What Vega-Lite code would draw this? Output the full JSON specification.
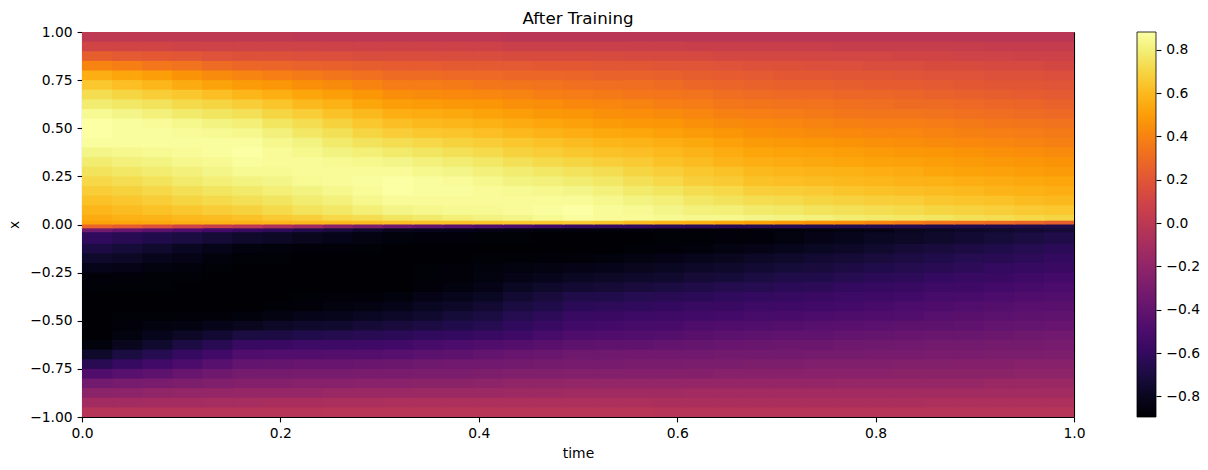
{"$schema":"https://vega.github.io/schema/vega-lite/v6.json","width":992,"height":385,"autosize":{"type":"none"},"padding":{"left":82,"top":32,"right":134,"bottom":53},"background":"white",
"config":{"font":"DejaVu Sans","view":{"stroke":null},"title":{"font":"DejaVu Sans","fontSize":16.67,"fontWeight":"normal","color":"black","offset":-3},"axis":{"grid":false,"labelFont":"DejaVu Sans","titleFont":"DejaVu Sans","labelFontSize":13.89,"titleFontSize":13.89,"titleFontWeight":"normal","labelColor":"black","titleColor":"black","tickColor":"black","domainColor":"black","tickWidth":1.1,"domainWidth":1.1,"tickSize":4.9,"labelPadding":4.9,"labelFlush":false,"labelOverlap":false}},
"title":{"text":"After Training","anchor":"middle"},
"datasets":{"cols":[{"c":0,"t0":0,"t1":0.0315},{"c":1,"t0":0.0303,"t1":0.0618},{"c":2,"t0":0.0606,"t1":0.0921},{"c":3,"t0":0.0909,"t1":0.1224},{"c":4,"t0":0.1212,"t1":0.1527},{"c":5,"t0":0.1515,"t1":0.183},{"c":6,"t0":0.1818,"t1":0.2133},{"c":7,"t0":0.2121,"t1":0.2436},{"c":8,"t0":0.2424,"t1":0.2739},{"c":9,"t0":0.2727,"t1":0.3042},{"c":10,"t0":0.303,"t1":0.3345},{"c":11,"t0":0.3333,"t1":0.3648},{"c":12,"t0":0.3636,"t1":0.3951},{"c":13,"t0":0.3939,"t1":0.4254},{"c":14,"t0":0.4242,"t1":0.4557},{"c":15,"t0":0.4545,"t1":0.486},{"c":16,"t0":0.4848,"t1":0.5164},{"c":17,"t0":0.5152,"t1":0.5467},{"c":18,"t0":0.5455,"t1":0.577},{"c":19,"t0":0.5758,"t1":0.6073},{"c":20,"t0":0.6061,"t1":0.6376},{"c":21,"t0":0.6364,"t1":0.6679},{"c":22,"t0":0.6667,"t1":0.6982},{"c":23,"t0":0.697,"t1":0.7285},{"c":24,"t0":0.7273,"t1":0.7588},{"c":25,"t0":0.7576,"t1":0.7891},{"c":26,"t0":0.7879,"t1":0.8194},{"c":27,"t0":0.8182,"t1":0.8497},{"c":28,"t0":0.8485,"t1":0.88},{"c":29,"t0":0.8788,"t1":0.9103},{"c":30,"t0":0.9091,"t1":0.9406},{"c":31,"t0":0.9394,"t1":0.9709},{"c":32,"t0":0.9697,"t1":1}],
"rows":[{"r":0,"x0":-1,"x1":-0.944},{"r":1,"x0":-0.95,"x1":-0.894},{"r":2,"x0":-0.9,"x1":-0.844},{"r":3,"x0":-0.85,"x1":-0.794},{"r":4,"x0":-0.8,"x1":-0.744},{"r":5,"x0":-0.75,"x1":-0.694},{"r":6,"x0":-0.7,"x1":-0.644},{"r":7,"x0":-0.65,"x1":-0.594},{"r":8,"x0":-0.6,"x1":-0.544},{"r":9,"x0":-0.55,"x1":-0.494},{"r":10,"x0":-0.5,"x1":-0.444},{"r":11,"x0":-0.45,"x1":-0.394},{"r":12,"x0":-0.4,"x1":-0.344},{"r":13,"x0":-0.35,"x1":-0.294},{"r":14,"x0":-0.3,"x1":-0.244},{"r":15,"x0":-0.25,"x1":-0.194},{"r":16,"x0":-0.2,"x1":-0.144},{"r":17,"x0":-0.15,"x1":-0.094},{"r":18,"x0":-0.1,"x1":-0.034},{"r":19,"x0":-0.04,"x1":-0.014},{"r":20,"x0":-0.02,"x1":0.006},{"r":21,"x0":0,"x1":0.026},{"r":22,"x0":0.02,"x1":0.056},{"r":23,"x0":0.05,"x1":0.106},{"r":24,"x0":0.1,"x1":0.156},{"r":25,"x0":0.15,"x1":0.206},{"r":26,"x0":0.2,"x1":0.256},{"r":27,"x0":0.25,"x1":0.306},{"r":28,"x0":0.3,"x1":0.356},{"r":29,"x0":0.35,"x1":0.406},{"r":30,"x0":0.4,"x1":0.456},{"r":31,"x0":0.45,"x1":0.506},{"r":32,"x0":0.5,"x1":0.556},{"r":33,"x0":0.55,"x1":0.606},{"r":34,"x0":0.6,"x1":0.656},{"r":35,"x0":0.65,"x1":0.706},{"r":36,"x0":0.7,"x1":0.756},{"r":37,"x0":0.75,"x1":0.806},{"r":38,"x0":0.8,"x1":0.856},{"r":39,"x0":0.85,"x1":0.906},{"r":40,"x0":0.9,"x1":0.956},{"r":41,"x0":0.95,"x1":1}],
"ticks":[{"v":-0.895},{"v":0.882}],
"cells":[
{"c":0,"r":0,"v":-0.03},{"c":1,"r":0,"v":-0.03},{"c":2,"r":0,"v":-0.03},{"c":3,"r":0,"v":-0.03},{"c":4,"r":0,"v":-0.03},{"c":5,"r":0,"v":-0.03},{"c":6,"r":0,"v":-0.03},{"c":7,"r":0,"v":-0.03},{"c":8,"r":0,"v":-0.02},{"c":9,"r":0,"v":-0.02},{"c":10,"r":0,"v":-0.02},{"c":11,"r":0,"v":-0.02},{"c":12,"r":0,"v":-0.02},{"c":13,"r":0,"v":-0.02},{"c":14,"r":0,"v":-0.02},{"c":15,"r":0,"v":-0.02},{"c":16,"r":0,"v":-0.02},{"c":17,"r":0,"v":-0.02},{"c":18,"r":0,"v":-0.02},{"c":19,"r":0,"v":-0.03},{"c":20,"r":0,"v":-0.03},{"c":21,"r":0,"v":-0.03},{"c":22,"r":0,"v":-0.03},{"c":23,"r":0,"v":-0.03},{"c":24,"r":0,"v":-0.03},{"c":25,"r":0,"v":-0.03},{"c":26,"r":0,"v":-0.03},{"c":27,"r":0,"v":-0.03},{"c":28,"r":0,"v":-0.03},{"c":29,"r":0,"v":-0.03},{"c":30,"r":0,"v":-0.03},{"c":31,"r":0,"v":-0.03},{"c":32,"r":0,"v":-0.03},
{"c":0,"r":1,"v":-0.12},{"c":1,"r":1,"v":-0.12},{"c":2,"r":1,"v":-0.11},{"c":3,"r":1,"v":-0.11},{"c":4,"r":1,"v":-0.1},{"c":5,"r":1,"v":-0.1},{"c":6,"r":1,"v":-0.09},{"c":7,"r":1,"v":-0.09},{"c":8,"r":1,"v":-0.08},{"c":9,"r":1,"v":-0.08},{"c":10,"r":1,"v":-0.07},{"c":11,"r":1,"v":-0.07},{"c":12,"r":1,"v":-0.07},{"c":13,"r":1,"v":-0.07},{"c":14,"r":1,"v":-0.07},{"c":15,"r":1,"v":-0.07},{"c":16,"r":1,"v":-0.07},{"c":17,"r":1,"v":-0.07},{"c":18,"r":1,"v":-0.07},{"c":19,"r":1,"v":-0.08},{"c":20,"r":1,"v":-0.08},{"c":21,"r":1,"v":-0.08},{"c":22,"r":1,"v":-0.08},{"c":23,"r":1,"v":-0.08},{"c":24,"r":1,"v":-0.08},{"c":25,"r":1,"v":-0.08},{"c":26,"r":1,"v":-0.08},{"c":27,"r":1,"v":-0.08},{"c":28,"r":1,"v":-0.07},{"c":29,"r":1,"v":-0.07},{"c":30,"r":1,"v":-0.07},{"c":31,"r":1,"v":-0.07},{"c":32,"r":1,"v":-0.07},
{"c":0,"r":2,"v":-0.22},{"c":1,"r":2,"v":-0.21},{"c":2,"r":2,"v":-0.2},{"c":3,"r":2,"v":-0.19},{"c":4,"r":2,"v":-0.18},{"c":5,"r":2,"v":-0.17},{"c":6,"r":2,"v":-0.17},{"c":7,"r":2,"v":-0.17},{"c":8,"r":2,"v":-0.16},{"c":9,"r":2,"v":-0.16},{"c":10,"r":2,"v":-0.16},{"c":11,"r":2,"v":-0.15},{"c":12,"r":2,"v":-0.15},{"c":13,"r":2,"v":-0.15},{"c":14,"r":2,"v":-0.14},{"c":15,"r":2,"v":-0.14},{"c":16,"r":2,"v":-0.13},{"c":17,"r":2,"v":-0.13},{"c":18,"r":2,"v":-0.13},{"c":19,"r":2,"v":-0.13},{"c":20,"r":2,"v":-0.12},{"c":21,"r":2,"v":-0.12},{"c":22,"r":2,"v":-0.12},{"c":23,"r":2,"v":-0.12},{"c":24,"r":2,"v":-0.12},{"c":25,"r":2,"v":-0.12},{"c":26,"r":2,"v":-0.12},{"c":27,"r":2,"v":-0.12},{"c":28,"r":2,"v":-0.12},{"c":29,"r":2,"v":-0.12},{"c":30,"r":2,"v":-0.12},{"c":31,"r":2,"v":-0.12},{"c":32,"r":2,"v":-0.12},
{"c":0,"r":3,"v":-0.33},{"c":1,"r":3,"v":-0.31},{"c":2,"r":3,"v":-0.3},{"c":3,"r":3,"v":-0.28},{"c":4,"r":3,"v":-0.27},{"c":5,"r":3,"v":-0.25},{"c":6,"r":3,"v":-0.25},{"c":7,"r":3,"v":-0.24},{"c":8,"r":3,"v":-0.24},{"c":9,"r":3,"v":-0.23},{"c":10,"r":3,"v":-0.23},{"c":11,"r":3,"v":-0.22},{"c":12,"r":3,"v":-0.22},{"c":13,"r":3,"v":-0.21},{"c":14,"r":3,"v":-0.2},{"c":15,"r":3,"v":-0.2},{"c":16,"r":3,"v":-0.19},{"c":17,"r":3,"v":-0.19},{"c":18,"r":3,"v":-0.19},{"c":19,"r":3,"v":-0.19},{"c":20,"r":3,"v":-0.18},{"c":21,"r":3,"v":-0.18},{"c":22,"r":3,"v":-0.18},{"c":23,"r":3,"v":-0.18},{"c":24,"r":3,"v":-0.18},{"c":25,"r":3,"v":-0.17},{"c":26,"r":3,"v":-0.17},{"c":27,"r":3,"v":-0.17},{"c":28,"r":3,"v":-0.17},{"c":29,"r":3,"v":-0.17},{"c":30,"r":3,"v":-0.16},{"c":31,"r":3,"v":-0.16},{"c":32,"r":3,"v":-0.16},
{"c":0,"r":4,"v":-0.48},{"c":1,"r":4,"v":-0.45},{"c":2,"r":4,"v":-0.42},{"c":3,"r":4,"v":-0.38},{"c":4,"r":4,"v":-0.35},{"c":5,"r":4,"v":-0.32},{"c":6,"r":4,"v":-0.32},{"c":7,"r":4,"v":-0.31},{"c":8,"r":4,"v":-0.31},{"c":9,"r":4,"v":-0.3},{"c":10,"r":4,"v":-0.3},{"c":11,"r":4,"v":-0.29},{"c":12,"r":4,"v":-0.29},{"c":13,"r":4,"v":-0.28},{"c":14,"r":4,"v":-0.27},{"c":15,"r":4,"v":-0.27},{"c":16,"r":4,"v":-0.26},{"c":17,"r":4,"v":-0.26},{"c":18,"r":4,"v":-0.25},{"c":19,"r":4,"v":-0.25},{"c":20,"r":4,"v":-0.25},{"c":21,"r":4,"v":-0.24},{"c":22,"r":4,"v":-0.24},{"c":23,"r":4,"v":-0.24},{"c":24,"r":4,"v":-0.23},{"c":25,"r":4,"v":-0.23},{"c":26,"r":4,"v":-0.23},{"c":27,"r":4,"v":-0.22},{"c":28,"r":4,"v":-0.22},{"c":29,"r":4,"v":-0.22},{"c":30,"r":4,"v":-0.22},{"c":31,"r":4,"v":-0.21},{"c":32,"r":4,"v":-0.21},
{"c":0,"r":5,"v":-0.64},{"c":1,"r":5,"v":-0.59},{"c":2,"r":5,"v":-0.54},{"c":3,"r":5,"v":-0.5},{"c":4,"r":5,"v":-0.45},{"c":5,"r":5,"v":-0.4},{"c":6,"r":5,"v":-0.39},{"c":7,"r":5,"v":-0.38},{"c":8,"r":5,"v":-0.38},{"c":9,"r":5,"v":-0.37},{"c":10,"r":5,"v":-0.36},{"c":11,"r":5,"v":-0.35},{"c":12,"r":5,"v":-0.34},{"c":13,"r":5,"v":-0.34},{"c":14,"r":5,"v":-0.33},{"c":15,"r":5,"v":-0.32},{"c":16,"r":5,"v":-0.31},{"c":17,"r":5,"v":-0.31},{"c":18,"r":5,"v":-0.3},{"c":19,"r":5,"v":-0.3},{"c":20,"r":5,"v":-0.29},{"c":21,"r":5,"v":-0.29},{"c":22,"r":5,"v":-0.28},{"c":23,"r":5,"v":-0.28},{"c":24,"r":5,"v":-0.27},{"c":25,"r":5,"v":-0.27},{"c":26,"r":5,"v":-0.27},{"c":27,"r":5,"v":-0.26},{"c":28,"r":5,"v":-0.26},{"c":29,"r":5,"v":-0.25},{"c":30,"r":5,"v":-0.25},{"c":31,"r":5,"v":-0.24},{"c":32,"r":5,"v":-0.24},
{"c":0,"r":6,"v":-0.76},{"c":1,"r":6,"v":-0.7},{"c":2,"r":6,"v":-0.65},{"c":3,"r":6,"v":-0.59},{"c":4,"r":6,"v":-0.54},{"c":5,"r":6,"v":-0.48},{"c":6,"r":6,"v":-0.47},{"c":7,"r":6,"v":-0.47},{"c":8,"r":6,"v":-0.46},{"c":9,"r":6,"v":-0.46},{"c":10,"r":6,"v":-0.45},{"c":11,"r":6,"v":-0.43},{"c":12,"r":6,"v":-0.42},{"c":13,"r":6,"v":-0.4},{"c":14,"r":6,"v":-0.38},{"c":15,"r":6,"v":-0.37},{"c":16,"r":6,"v":-0.35},{"c":17,"r":6,"v":-0.35},{"c":18,"r":6,"v":-0.34},{"c":19,"r":6,"v":-0.34},{"c":20,"r":6,"v":-0.34},{"c":21,"r":6,"v":-0.33},{"c":22,"r":6,"v":-0.33},{"c":23,"r":6,"v":-0.33},{"c":24,"r":6,"v":-0.32},{"c":25,"r":6,"v":-0.32},{"c":26,"r":6,"v":-0.31},{"c":27,"r":6,"v":-0.31},{"c":28,"r":6,"v":-0.3},{"c":29,"r":6,"v":-0.3},{"c":30,"r":6,"v":-0.29},{"c":31,"r":6,"v":-0.29},{"c":32,"r":6,"v":-0.28},
{"c":0,"r":7,"v":-0.86},{"c":1,"r":7,"v":-0.8},{"c":2,"r":7,"v":-0.75},{"c":3,"r":7,"v":-0.69},{"c":4,"r":7,"v":-0.64},{"c":5,"r":7,"v":-0.58},{"c":6,"r":7,"v":-0.57},{"c":7,"r":7,"v":-0.56},{"c":8,"r":7,"v":-0.56},{"c":9,"r":7,"v":-0.55},{"c":10,"r":7,"v":-0.54},{"c":11,"r":7,"v":-0.52},{"c":12,"r":7,"v":-0.5},{"c":13,"r":7,"v":-0.48},{"c":14,"r":7,"v":-0.46},{"c":15,"r":7,"v":-0.44},{"c":16,"r":7,"v":-0.42},{"c":17,"r":7,"v":-0.41},{"c":18,"r":7,"v":-0.41},{"c":19,"r":7,"v":-0.4},{"c":20,"r":7,"v":-0.39},{"c":21,"r":7,"v":-0.38},{"c":22,"r":7,"v":-0.37},{"c":23,"r":7,"v":-0.36},{"c":24,"r":7,"v":-0.36},{"c":25,"r":7,"v":-0.35},{"c":26,"r":7,"v":-0.35},{"c":27,"r":7,"v":-0.34},{"c":28,"r":7,"v":-0.33},{"c":29,"r":7,"v":-0.33},{"c":30,"r":7,"v":-0.32},{"c":31,"r":7,"v":-0.32},{"c":32,"r":7,"v":-0.31},
{"c":0,"r":8,"v":-0.89},{"c":1,"r":8,"v":-0.85},{"c":2,"r":8,"v":-0.81},{"c":3,"r":8,"v":-0.78},{"c":4,"r":8,"v":-0.74},{"c":5,"r":8,"v":-0.7},{"c":6,"r":8,"v":-0.69},{"c":7,"r":8,"v":-0.67},{"c":8,"r":8,"v":-0.66},{"c":9,"r":8,"v":-0.64},{"c":10,"r":8,"v":-0.63},{"c":11,"r":8,"v":-0.61},{"c":12,"r":8,"v":-0.6},{"c":13,"r":8,"v":-0.58},{"c":14,"r":8,"v":-0.55},{"c":15,"r":8,"v":-0.52},{"c":16,"r":8,"v":-0.49},{"c":17,"r":8,"v":-0.48},{"c":18,"r":8,"v":-0.47},{"c":19,"r":8,"v":-0.46},{"c":20,"r":8,"v":-0.44},{"c":21,"r":8,"v":-0.43},{"c":22,"r":8,"v":-0.42},{"c":23,"r":8,"v":-0.41},{"c":24,"r":8,"v":-0.41},{"c":25,"r":8,"v":-0.4},{"c":26,"r":8,"v":-0.39},{"c":27,"r":8,"v":-0.38},{"c":28,"r":8,"v":-0.37},{"c":29,"r":8,"v":-0.37},{"c":30,"r":8,"v":-0.36},{"c":31,"r":8,"v":-0.35},{"c":32,"r":8,"v":-0.34},
{"c":0,"r":9,"v":-0.89},{"c":1,"r":9,"v":-0.87},{"c":2,"r":9,"v":-0.85},{"c":3,"r":9,"v":-0.84},{"c":4,"r":9,"v":-0.82},{"c":5,"r":9,"v":-0.8},{"c":6,"r":9,"v":-0.78},{"c":7,"r":9,"v":-0.76},{"c":8,"r":9,"v":-0.75},{"c":9,"r":9,"v":-0.73},{"c":10,"r":9,"v":-0.71},{"c":11,"r":9,"v":-0.69},{"c":12,"r":9,"v":-0.67},{"c":13,"r":9,"v":-0.65},{"c":14,"r":9,"v":-0.61},{"c":15,"r":9,"v":-0.58},{"c":16,"r":9,"v":-0.54},{"c":17,"r":9,"v":-0.53},{"c":18,"r":9,"v":-0.52},{"c":19,"r":9,"v":-0.51},{"c":20,"r":9,"v":-0.49},{"c":21,"r":9,"v":-0.48},{"c":22,"r":9,"v":-0.47},{"c":23,"r":9,"v":-0.46},{"c":24,"r":9,"v":-0.45},{"c":25,"r":9,"v":-0.44},{"c":26,"r":9,"v":-0.43},{"c":27,"r":9,"v":-0.42},{"c":28,"r":9,"v":-0.42},{"c":29,"r":9,"v":-0.41},{"c":30,"r":9,"v":-0.4},{"c":31,"r":9,"v":-0.39},{"c":32,"r":9,"v":-0.38},
{"c":0,"r":10,"v":-0.89},{"c":1,"r":10,"v":-0.88},{"c":2,"r":10,"v":-0.88},{"c":3,"r":10,"v":-0.87},{"c":4,"r":10,"v":-0.87},{"c":5,"r":10,"v":-0.86},{"c":6,"r":10,"v":-0.84},{"c":7,"r":10,"v":-0.82},{"c":8,"r":10,"v":-0.81},{"c":9,"r":10,"v":-0.79},{"c":10,"r":10,"v":-0.77},{"c":11,"r":10,"v":-0.75},{"c":12,"r":10,"v":-0.72},{"c":13,"r":10,"v":-0.7},{"c":14,"r":10,"v":-0.65},{"c":15,"r":10,"v":-0.62},{"c":16,"r":10,"v":-0.58},{"c":17,"r":10,"v":-0.57},{"c":18,"r":10,"v":-0.56},{"c":19,"r":10,"v":-0.55},{"c":20,"r":10,"v":-0.54},{"c":21,"r":10,"v":-0.53},{"c":22,"r":10,"v":-0.52},{"c":23,"r":10,"v":-0.51},{"c":24,"r":10,"v":-0.5},{"c":25,"r":10,"v":-0.49},{"c":26,"r":10,"v":-0.48},{"c":27,"r":10,"v":-0.47},{"c":28,"r":10,"v":-0.45},{"c":29,"r":10,"v":-0.44},{"c":30,"r":10,"v":-0.43},{"c":31,"r":10,"v":-0.42},{"c":32,"r":10,"v":-0.41},
{"c":0,"r":11,"v":-0.89},{"c":1,"r":11,"v":-0.89},{"c":2,"r":11,"v":-0.89},{"c":3,"r":11,"v":-0.89},{"c":4,"r":11,"v":-0.89},{"c":5,"r":11,"v":-0.89},{"c":6,"r":11,"v":-0.88},{"c":7,"r":11,"v":-0.87},{"c":8,"r":11,"v":-0.85},{"c":9,"r":11,"v":-0.84},{"c":10,"r":11,"v":-0.82},{"c":11,"r":11,"v":-0.79},{"c":12,"r":11,"v":-0.77},{"c":13,"r":11,"v":-0.74},{"c":14,"r":11,"v":-0.7},{"c":15,"r":11,"v":-0.67},{"c":16,"r":11,"v":-0.63},{"c":17,"r":11,"v":-0.62},{"c":18,"r":11,"v":-0.61},{"c":19,"r":11,"v":-0.6},{"c":20,"r":11,"v":-0.58},{"c":21,"r":11,"v":-0.57},{"c":22,"r":11,"v":-0.56},{"c":23,"r":11,"v":-0.55},{"c":24,"r":11,"v":-0.54},{"c":25,"r":11,"v":-0.53},{"c":26,"r":11,"v":-0.51},{"c":27,"r":11,"v":-0.5},{"c":28,"r":11,"v":-0.49},{"c":29,"r":11,"v":-0.47},{"c":30,"r":11,"v":-0.46},{"c":31,"r":11,"v":-0.45},{"c":32,"r":11,"v":-0.44},
{"c":0,"r":12,"v":-0.89},{"c":1,"r":12,"v":-0.89},{"c":2,"r":12,"v":-0.89},{"c":3,"r":12,"v":-0.89},{"c":4,"r":12,"v":-0.89},{"c":5,"r":12,"v":-0.89},{"c":6,"r":12,"v":-0.89},{"c":7,"r":12,"v":-0.88},{"c":8,"r":12,"v":-0.87},{"c":9,"r":12,"v":-0.87},{"c":10,"r":12,"v":-0.86},{"c":11,"r":12,"v":-0.83},{"c":12,"r":12,"v":-0.81},{"c":13,"r":12,"v":-0.79},{"c":14,"r":12,"v":-0.74},{"c":15,"r":12,"v":-0.71},{"c":16,"r":12,"v":-0.68},{"c":17,"r":12,"v":-0.67},{"c":18,"r":12,"v":-0.65},{"c":19,"r":12,"v":-0.64},{"c":20,"r":12,"v":-0.63},{"c":21,"r":12,"v":-0.61},{"c":22,"r":12,"v":-0.6},{"c":23,"r":12,"v":-0.59},{"c":24,"r":12,"v":-0.57},{"c":25,"r":12,"v":-0.56},{"c":26,"r":12,"v":-0.55},{"c":27,"r":12,"v":-0.54},{"c":28,"r":12,"v":-0.52},{"c":29,"r":12,"v":-0.51},{"c":30,"r":12,"v":-0.5},{"c":31,"r":12,"v":-0.48},{"c":32,"r":12,"v":-0.47},
{"c":0,"r":13,"v":-0.88},{"c":1,"r":13,"v":-0.88},{"c":2,"r":13,"v":-0.88},{"c":3,"r":13,"v":-0.89},{"c":4,"r":13,"v":-0.89},{"c":5,"r":13,"v":-0.89},{"c":6,"r":13,"v":-0.89},{"c":7,"r":13,"v":-0.89},{"c":8,"r":13,"v":-0.89},{"c":9,"r":13,"v":-0.89},{"c":10,"r":13,"v":-0.89},{"c":11,"r":13,"v":-0.87},{"c":12,"r":13,"v":-0.85},{"c":13,"r":13,"v":-0.83},{"c":14,"r":13,"v":-0.79},{"c":15,"r":13,"v":-0.76},{"c":16,"r":13,"v":-0.74},{"c":17,"r":13,"v":-0.73},{"c":18,"r":13,"v":-0.71},{"c":19,"r":13,"v":-0.7},{"c":20,"r":13,"v":-0.68},{"c":21,"r":13,"v":-0.66},{"c":22,"r":13,"v":-0.65},{"c":23,"r":13,"v":-0.63},{"c":24,"r":13,"v":-0.62},{"c":25,"r":13,"v":-0.6},{"c":26,"r":13,"v":-0.59},{"c":27,"r":13,"v":-0.58},{"c":28,"r":13,"v":-0.56},{"c":29,"r":13,"v":-0.55},{"c":30,"r":13,"v":-0.53},{"c":31,"r":13,"v":-0.52},{"c":32,"r":13,"v":-0.5},
{"c":0,"r":14,"v":-0.87},{"c":1,"r":14,"v":-0.87},{"c":2,"r":14,"v":-0.88},{"c":3,"r":14,"v":-0.88},{"c":4,"r":14,"v":-0.89},{"c":5,"r":14,"v":-0.89},{"c":6,"r":14,"v":-0.89},{"c":7,"r":14,"v":-0.89},{"c":8,"r":14,"v":-0.89},{"c":9,"r":14,"v":-0.89},{"c":10,"r":14,"v":-0.89},{"c":11,"r":14,"v":-0.88},{"c":12,"r":14,"v":-0.87},{"c":13,"r":14,"v":-0.85},{"c":14,"r":14,"v":-0.83},{"c":15,"r":14,"v":-0.81},{"c":16,"r":14,"v":-0.79},{"c":17,"r":14,"v":-0.78},{"c":18,"r":14,"v":-0.76},{"c":19,"r":14,"v":-0.75},{"c":20,"r":14,"v":-0.73},{"c":21,"r":14,"v":-0.72},{"c":22,"r":14,"v":-0.7},{"c":23,"r":14,"v":-0.68},{"c":24,"r":14,"v":-0.67},{"c":25,"r":14,"v":-0.65},{"c":26,"r":14,"v":-0.63},{"c":27,"r":14,"v":-0.62},{"c":28,"r":14,"v":-0.6},{"c":29,"r":14,"v":-0.58},{"c":30,"r":14,"v":-0.57},{"c":31,"r":14,"v":-0.55},{"c":32,"r":14,"v":-0.53},
{"c":0,"r":15,"v":-0.82},{"c":1,"r":15,"v":-0.83},{"c":2,"r":15,"v":-0.85},{"c":3,"r":15,"v":-0.86},{"c":4,"r":15,"v":-0.88},{"c":5,"r":15,"v":-0.89},{"c":6,"r":15,"v":-0.89},{"c":7,"r":15,"v":-0.89},{"c":8,"r":15,"v":-0.89},{"c":9,"r":15,"v":-0.89},{"c":10,"r":15,"v":-0.89},{"c":11,"r":15,"v":-0.88},{"c":12,"r":15,"v":-0.87},{"c":13,"r":15,"v":-0.86},{"c":14,"r":15,"v":-0.85},{"c":15,"r":15,"v":-0.84},{"c":16,"r":15,"v":-0.83},{"c":17,"r":15,"v":-0.82},{"c":18,"r":15,"v":-0.8},{"c":19,"r":15,"v":-0.79},{"c":20,"r":15,"v":-0.77},{"c":21,"r":15,"v":-0.76},{"c":22,"r":15,"v":-0.74},{"c":23,"r":15,"v":-0.72},{"c":24,"r":15,"v":-0.71},{"c":25,"r":15,"v":-0.69},{"c":26,"r":15,"v":-0.67},{"c":27,"r":15,"v":-0.66},{"c":28,"r":15,"v":-0.64},{"c":29,"r":15,"v":-0.62},{"c":30,"r":15,"v":-0.6},{"c":31,"r":15,"v":-0.59},{"c":32,"r":15,"v":-0.57},
{"c":0,"r":16,"v":-0.76},{"c":1,"r":16,"v":-0.78},{"c":2,"r":16,"v":-0.81},{"c":3,"r":16,"v":-0.83},{"c":4,"r":16,"v":-0.86},{"c":5,"r":16,"v":-0.88},{"c":6,"r":16,"v":-0.88},{"c":7,"r":16,"v":-0.89},{"c":8,"r":16,"v":-0.89},{"c":9,"r":16,"v":-0.89},{"c":10,"r":16,"v":-0.89},{"c":11,"r":16,"v":-0.89},{"c":12,"r":16,"v":-0.89},{"c":13,"r":16,"v":-0.88},{"c":14,"r":16,"v":-0.88},{"c":15,"r":16,"v":-0.87},{"c":16,"r":16,"v":-0.87},{"c":17,"r":16,"v":-0.86},{"c":18,"r":16,"v":-0.84},{"c":19,"r":16,"v":-0.83},{"c":20,"r":16,"v":-0.81},{"c":21,"r":16,"v":-0.8},{"c":22,"r":16,"v":-0.78},{"c":23,"r":16,"v":-0.76},{"c":24,"r":16,"v":-0.74},{"c":25,"r":16,"v":-0.73},{"c":26,"r":16,"v":-0.71},{"c":27,"r":16,"v":-0.69},{"c":28,"r":16,"v":-0.67},{"c":29,"r":16,"v":-0.65},{"c":30,"r":16,"v":-0.64},{"c":31,"r":16,"v":-0.62},{"c":32,"r":16,"v":-0.6},
{"c":0,"r":17,"v":-0.69},{"c":1,"r":17,"v":-0.72},{"c":2,"r":17,"v":-0.75},{"c":3,"r":17,"v":-0.79},{"c":4,"r":17,"v":-0.82},{"c":5,"r":17,"v":-0.85},{"c":6,"r":17,"v":-0.86},{"c":7,"r":17,"v":-0.87},{"c":8,"r":17,"v":-0.87},{"c":9,"r":17,"v":-0.88},{"c":10,"r":17,"v":-0.89},{"c":11,"r":17,"v":-0.89},{"c":12,"r":17,"v":-0.89},{"c":13,"r":17,"v":-0.89},{"c":14,"r":17,"v":-0.89},{"c":15,"r":17,"v":-0.89},{"c":16,"r":17,"v":-0.89},{"c":17,"r":17,"v":-0.89},{"c":18,"r":17,"v":-0.88},{"c":19,"r":17,"v":-0.87},{"c":20,"r":17,"v":-0.86},{"c":21,"r":17,"v":-0.84},{"c":22,"r":17,"v":-0.83},{"c":23,"r":17,"v":-0.81},{"c":24,"r":17,"v":-0.79},{"c":25,"r":17,"v":-0.77},{"c":26,"r":17,"v":-0.75},{"c":27,"r":17,"v":-0.73},{"c":28,"r":17,"v":-0.71},{"c":29,"r":17,"v":-0.69},{"c":30,"r":17,"v":-0.67},{"c":31,"r":17,"v":-0.65},{"c":32,"r":17,"v":-0.63},
{"c":0,"r":18,"v":-0.61},{"c":1,"r":18,"v":-0.64},{"c":2,"r":18,"v":-0.67},{"c":3,"r":18,"v":-0.7},{"c":4,"r":18,"v":-0.73},{"c":5,"r":18,"v":-0.76},{"c":6,"r":18,"v":-0.78},{"c":7,"r":18,"v":-0.8},{"c":8,"r":18,"v":-0.82},{"c":9,"r":18,"v":-0.84},{"c":10,"r":18,"v":-0.86},{"c":11,"r":18,"v":-0.87},{"c":12,"r":18,"v":-0.87},{"c":13,"r":18,"v":-0.88},{"c":14,"r":18,"v":-0.88},{"c":15,"r":18,"v":-0.89},{"c":16,"r":18,"v":-0.89},{"c":17,"r":18,"v":-0.89},{"c":18,"r":18,"v":-0.89},{"c":19,"r":18,"v":-0.88},{"c":20,"r":18,"v":-0.88},{"c":21,"r":18,"v":-0.87},{"c":22,"r":18,"v":-0.87},{"c":23,"r":18,"v":-0.85},{"c":24,"r":18,"v":-0.83},{"c":25,"r":18,"v":-0.81},{"c":26,"r":18,"v":-0.79},{"c":27,"r":18,"v":-0.78},{"c":28,"r":18,"v":-0.76},{"c":29,"r":18,"v":-0.74},{"c":30,"r":18,"v":-0.72},{"c":31,"r":18,"v":-0.7},{"c":32,"r":18,"v":-0.68},
{"c":0,"r":19,"v":-0.33},{"c":1,"r":19,"v":-0.38},{"c":2,"r":19,"v":-0.43},{"c":3,"r":19,"v":-0.48},{"c":4,"r":19,"v":-0.53},{"c":5,"r":19,"v":-0.58},{"c":6,"r":19,"v":-0.62},{"c":7,"r":19,"v":-0.67},{"c":8,"r":19,"v":-0.71},{"c":9,"r":19,"v":-0.76},{"c":10,"r":19,"v":-0.8},{"c":11,"r":19,"v":-0.81},{"c":12,"r":19,"v":-0.82},{"c":13,"r":19,"v":-0.83},{"c":14,"r":19,"v":-0.84},{"c":15,"r":19,"v":-0.85},{"c":16,"r":19,"v":-0.86},{"c":17,"r":19,"v":-0.86},{"c":18,"r":19,"v":-0.86},{"c":19,"r":19,"v":-0.87},{"c":20,"r":19,"v":-0.87},{"c":21,"r":19,"v":-0.87},{"c":22,"r":19,"v":-0.87},{"c":23,"r":19,"v":-0.86},{"c":24,"r":19,"v":-0.85},{"c":25,"r":19,"v":-0.84},{"c":26,"r":19,"v":-0.83},{"c":27,"r":19,"v":-0.8},{"c":28,"r":19,"v":-0.79},{"c":29,"r":19,"v":-0.77},{"c":30,"r":19,"v":-0.76},{"c":31,"r":19,"v":-0.74},{"c":32,"r":19,"v":-0.73},
{"c":0,"r":20,"v":0.27},{"c":1,"r":20,"v":0.23},{"c":2,"r":20,"v":0.17},{"c":3,"r":20,"v":0.1},{"c":4,"r":20,"v":0.05},{"c":5,"r":20,"v":0},{"c":6,"r":20,"v":-0.06},{"c":7,"r":20,"v":-0.12},{"c":8,"r":20,"v":-0.22},{"c":9,"r":20,"v":-0.28},{"c":10,"r":20,"v":-0.35},{"c":11,"r":20,"v":-0.39},{"c":12,"r":20,"v":-0.43},{"c":13,"r":20,"v":-0.47},{"c":14,"r":20,"v":-0.5},{"c":15,"r":20,"v":-0.54},{"c":16,"r":20,"v":-0.58},{"c":17,"r":20,"v":-0.59},{"c":18,"r":20,"v":-0.6},{"c":19,"r":20,"v":-0.62},{"c":20,"r":20,"v":-0.63},{"c":21,"r":20,"v":-0.64},{"c":22,"r":20,"v":-0.65},{"c":23,"r":20,"v":-0.65},{"c":24,"r":20,"v":-0.66},{"c":25,"r":20,"v":-0.66},{"c":26,"r":20,"v":-0.66},{"c":27,"r":20,"v":-0.66},{"c":28,"r":20,"v":-0.67},{"c":29,"r":20,"v":-0.67},{"c":30,"r":20,"v":-0.67},{"c":31,"r":20,"v":-0.68},{"c":32,"r":20,"v":-0.68},
{"c":0,"r":21,"v":0.52},{"c":1,"r":21,"v":0.53},{"c":2,"r":21,"v":0.54},{"c":3,"r":21,"v":0.56},{"c":4,"r":21,"v":0.57},{"c":5,"r":21,"v":0.58},{"c":6,"r":21,"v":0.59},{"c":7,"r":21,"v":0.6},{"c":8,"r":21,"v":0.6},{"c":9,"r":21,"v":0.61},{"c":10,"r":21,"v":0.62},{"c":11,"r":21,"v":0.63},{"c":12,"r":21,"v":0.63},{"c":13,"r":21,"v":0.64},{"c":14,"r":21,"v":0.65},{"c":15,"r":21,"v":0.65},{"c":16,"r":21,"v":0.66},{"c":17,"r":21,"v":0.64},{"c":18,"r":21,"v":0.61},{"c":19,"r":21,"v":0.59},{"c":20,"r":21,"v":0.57},{"c":21,"r":21,"v":0.54},{"c":22,"r":21,"v":0.52},{"c":23,"r":21,"v":0.49},{"c":24,"r":21,"v":0.46},{"c":25,"r":21,"v":0.44},{"c":26,"r":21,"v":0.41},{"c":27,"r":21,"v":0.38},{"c":28,"r":21,"v":0.35},{"c":29,"r":21,"v":0.32},{"c":30,"r":21,"v":0.3},{"c":31,"r":21,"v":0.27},{"c":32,"r":21,"v":0.24},
{"c":0,"r":22,"v":0.55},{"c":1,"r":22,"v":0.57},{"c":2,"r":22,"v":0.58},{"c":3,"r":22,"v":0.6},{"c":4,"r":22,"v":0.61},{"c":5,"r":22,"v":0.63},{"c":6,"r":22,"v":0.66},{"c":7,"r":22,"v":0.68},{"c":8,"r":22,"v":0.71},{"c":9,"r":22,"v":0.73},{"c":10,"r":22,"v":0.76},{"c":11,"r":22,"v":0.78},{"c":12,"r":22,"v":0.8},{"c":13,"r":22,"v":0.82},{"c":14,"r":22,"v":0.83},{"c":15,"r":22,"v":0.85},{"c":16,"r":22,"v":0.87},{"c":17,"r":22,"v":0.86},{"c":18,"r":22,"v":0.86},{"c":19,"r":22,"v":0.85},{"c":20,"r":22,"v":0.84},{"c":21,"r":22,"v":0.84},{"c":22,"r":22,"v":0.83},{"c":23,"r":22,"v":0.82},{"c":24,"r":22,"v":0.81},{"c":25,"r":22,"v":0.79},{"c":26,"r":22,"v":0.78},{"c":27,"r":22,"v":0.77},{"c":28,"r":22,"v":0.76},{"c":29,"r":22,"v":0.74},{"c":30,"r":22,"v":0.73},{"c":31,"r":22,"v":0.71},{"c":32,"r":22,"v":0.7},
{"c":0,"r":23,"v":0.59},{"c":1,"r":23,"v":0.61},{"c":2,"r":23,"v":0.63},{"c":3,"r":23,"v":0.65},{"c":4,"r":23,"v":0.67},{"c":5,"r":23,"v":0.69},{"c":6,"r":23,"v":0.72},{"c":7,"r":23,"v":0.75},{"c":8,"r":23,"v":0.77},{"c":9,"r":23,"v":0.8},{"c":10,"r":23,"v":0.83},{"c":11,"r":23,"v":0.84},{"c":12,"r":23,"v":0.85},{"c":13,"r":23,"v":0.85},{"c":14,"r":23,"v":0.86},{"c":15,"r":23,"v":0.87},{"c":16,"r":23,"v":0.88},{"c":17,"r":23,"v":0.86},{"c":18,"r":23,"v":0.85},{"c":19,"r":23,"v":0.83},{"c":20,"r":23,"v":0.81},{"c":21,"r":23,"v":0.8},{"c":22,"r":23,"v":0.78},{"c":23,"r":23,"v":0.77},{"c":24,"r":23,"v":0.75},{"c":25,"r":23,"v":0.74},{"c":26,"r":23,"v":0.73},{"c":27,"r":23,"v":0.72},{"c":28,"r":23,"v":0.7},{"c":29,"r":23,"v":0.69},{"c":30,"r":23,"v":0.68},{"c":31,"r":23,"v":0.66},{"c":32,"r":23,"v":0.65},
{"c":0,"r":24,"v":0.63},{"c":1,"r":24,"v":0.65},{"c":2,"r":24,"v":0.67},{"c":3,"r":24,"v":0.7},{"c":4,"r":24,"v":0.72},{"c":5,"r":24,"v":0.74},{"c":6,"r":24,"v":0.76},{"c":7,"r":24,"v":0.79},{"c":8,"r":24,"v":0.81},{"c":9,"r":24,"v":0.84},{"c":10,"r":24,"v":0.86},{"c":11,"r":24,"v":0.86},{"c":12,"r":24,"v":0.86},{"c":13,"r":24,"v":0.86},{"c":14,"r":24,"v":0.86},{"c":15,"r":24,"v":0.86},{"c":16,"r":24,"v":0.86},{"c":17,"r":24,"v":0.84},{"c":18,"r":24,"v":0.82},{"c":19,"r":24,"v":0.8},{"c":20,"r":24,"v":0.77},{"c":21,"r":24,"v":0.75},{"c":22,"r":24,"v":0.73},{"c":23,"r":24,"v":0.72},{"c":24,"r":24,"v":0.7},{"c":25,"r":24,"v":0.69},{"c":26,"r":24,"v":0.68},{"c":27,"r":24,"v":0.67},{"c":28,"r":24,"v":0.65},{"c":29,"r":24,"v":0.64},{"c":30,"r":24,"v":0.63},{"c":31,"r":24,"v":0.61},{"c":32,"r":24,"v":0.6},
{"c":0,"r":25,"v":0.67},{"c":1,"r":25,"v":0.69},{"c":2,"r":25,"v":0.71},{"c":3,"r":25,"v":0.74},{"c":4,"r":25,"v":0.76},{"c":5,"r":25,"v":0.78},{"c":6,"r":25,"v":0.8},{"c":7,"r":25,"v":0.82},{"c":8,"r":25,"v":0.84},{"c":9,"r":25,"v":0.86},{"c":10,"r":25,"v":0.88},{"c":11,"r":25,"v":0.87},{"c":12,"r":25,"v":0.87},{"c":13,"r":25,"v":0.86},{"c":14,"r":25,"v":0.85},{"c":15,"r":25,"v":0.84},{"c":16,"r":25,"v":0.83},{"c":17,"r":25,"v":0.81},{"c":18,"r":25,"v":0.78},{"c":19,"r":25,"v":0.76},{"c":20,"r":25,"v":0.73},{"c":21,"r":25,"v":0.71},{"c":22,"r":25,"v":0.68},{"c":23,"r":25,"v":0.67},{"c":24,"r":25,"v":0.66},{"c":25,"r":25,"v":0.64},{"c":26,"r":25,"v":0.63},{"c":27,"r":25,"v":0.62},{"c":28,"r":25,"v":0.61},{"c":29,"r":25,"v":0.6},{"c":30,"r":25,"v":0.58},{"c":31,"r":25,"v":0.57},{"c":32,"r":25,"v":0.56},
{"c":0,"r":26,"v":0.71},{"c":1,"r":26,"v":0.73},{"c":2,"r":26,"v":0.75},{"c":3,"r":26,"v":0.78},{"c":4,"r":26,"v":0.8},{"c":5,"r":26,"v":0.82},{"c":6,"r":26,"v":0.83},{"c":7,"r":26,"v":0.85},{"c":8,"r":26,"v":0.86},{"c":9,"r":26,"v":0.87},{"c":10,"r":26,"v":0.88},{"c":11,"r":26,"v":0.87},{"c":12,"r":26,"v":0.86},{"c":13,"r":26,"v":0.84},{"c":14,"r":26,"v":0.82},{"c":15,"r":26,"v":0.81},{"c":16,"r":26,"v":0.79},{"c":17,"r":26,"v":0.77},{"c":18,"r":26,"v":0.74},{"c":19,"r":26,"v":0.71},{"c":20,"r":26,"v":0.68},{"c":21,"r":26,"v":0.66},{"c":22,"r":26,"v":0.63},{"c":23,"r":26,"v":0.62},{"c":24,"r":26,"v":0.61},{"c":25,"r":26,"v":0.6},{"c":26,"r":26,"v":0.59},{"c":27,"r":26,"v":0.58},{"c":28,"r":26,"v":0.57},{"c":29,"r":26,"v":0.56},{"c":30,"r":26,"v":0.55},{"c":31,"r":26,"v":0.54},{"c":32,"r":26,"v":0.53},
{"c":0,"r":27,"v":0.75},{"c":1,"r":27,"v":0.77},{"c":2,"r":27,"v":0.79},{"c":3,"r":27,"v":0.81},{"c":4,"r":27,"v":0.83},{"c":5,"r":27,"v":0.85},{"c":6,"r":27,"v":0.85},{"c":7,"r":27,"v":0.86},{"c":8,"r":27,"v":0.86},{"c":9,"r":27,"v":0.86},{"c":10,"r":27,"v":0.86},{"c":11,"r":27,"v":0.84},{"c":12,"r":27,"v":0.83},{"c":13,"r":27,"v":0.81},{"c":14,"r":27,"v":0.79},{"c":15,"r":27,"v":0.77},{"c":16,"r":27,"v":0.75},{"c":17,"r":27,"v":0.73},{"c":18,"r":27,"v":0.7},{"c":19,"r":27,"v":0.68},{"c":20,"r":27,"v":0.65},{"c":21,"r":27,"v":0.63},{"c":22,"r":27,"v":0.6},{"c":23,"r":27,"v":0.59},{"c":24,"r":27,"v":0.58},{"c":25,"r":27,"v":0.57},{"c":26,"r":27,"v":0.56},{"c":27,"r":27,"v":0.55},{"c":28,"r":27,"v":0.53},{"c":29,"r":27,"v":0.52},{"c":30,"r":27,"v":0.51},{"c":31,"r":27,"v":0.5},{"c":32,"r":27,"v":0.49},
{"c":0,"r":28,"v":0.79},{"c":1,"r":28,"v":0.81},{"c":2,"r":28,"v":0.82},{"c":3,"r":28,"v":0.84},{"c":4,"r":28,"v":0.85},{"c":5,"r":28,"v":0.87},{"c":6,"r":28,"v":0.86},{"c":7,"r":28,"v":0.86},{"c":8,"r":28,"v":0.85},{"c":9,"r":28,"v":0.84},{"c":10,"r":28,"v":0.83},{"c":11,"r":28,"v":0.81},{"c":12,"r":28,"v":0.79},{"c":13,"r":28,"v":0.77},{"c":14,"r":28,"v":0.74},{"c":15,"r":28,"v":0.72},{"c":16,"r":28,"v":0.7},{"c":17,"r":28,"v":0.68},{"c":18,"r":28,"v":0.66},{"c":19,"r":28,"v":0.63},{"c":20,"r":28,"v":0.61},{"c":21,"r":28,"v":0.58},{"c":22,"r":28,"v":0.56},{"c":23,"r":28,"v":0.55},{"c":24,"r":28,"v":0.54},{"c":25,"r":28,"v":0.53},{"c":26,"r":28,"v":0.52},{"c":27,"r":28,"v":0.51},{"c":28,"r":28,"v":0.5},{"c":29,"r":28,"v":0.49},{"c":30,"r":28,"v":0.48},{"c":31,"r":28,"v":0.47},{"c":32,"r":28,"v":0.46},
{"c":0,"r":29,"v":0.83},{"c":1,"r":29,"v":0.84},{"c":2,"r":29,"v":0.85},{"c":3,"r":29,"v":0.86},{"c":4,"r":29,"v":0.87},{"c":5,"r":29,"v":0.88},{"c":6,"r":29,"v":0.86},{"c":7,"r":29,"v":0.84},{"c":8,"r":29,"v":0.82},{"c":9,"r":29,"v":0.8},{"c":10,"r":29,"v":0.78},{"c":11,"r":29,"v":0.76},{"c":12,"r":29,"v":0.74},{"c":13,"r":29,"v":0.72},{"c":14,"r":29,"v":0.69},{"c":15,"r":29,"v":0.67},{"c":16,"r":29,"v":0.65},{"c":17,"r":29,"v":0.63},{"c":18,"r":29,"v":0.62},{"c":19,"r":29,"v":0.6},{"c":20,"r":29,"v":0.58},{"c":21,"r":29,"v":0.55},{"c":22,"r":29,"v":0.53},{"c":23,"r":29,"v":0.52},{"c":24,"r":29,"v":0.51},{"c":25,"r":29,"v":0.5},{"c":26,"r":29,"v":0.49},{"c":27,"r":29,"v":0.48},{"c":28,"r":29,"v":0.47},{"c":29,"r":29,"v":0.46},{"c":30,"r":29,"v":0.45},{"c":31,"r":29,"v":0.44},{"c":32,"r":29,"v":0.43},
{"c":0,"r":30,"v":0.87},{"c":1,"r":30,"v":0.87},{"c":2,"r":30,"v":0.87},{"c":3,"r":30,"v":0.87},{"c":4,"r":30,"v":0.87},{"c":5,"r":30,"v":0.87},{"c":6,"r":30,"v":0.84},{"c":7,"r":30,"v":0.82},{"c":8,"r":30,"v":0.78},{"c":9,"r":30,"v":0.75},{"c":10,"r":30,"v":0.73},{"c":11,"r":30,"v":0.71},{"c":12,"r":30,"v":0.69},{"c":13,"r":30,"v":0.67},{"c":14,"r":30,"v":0.65},{"c":15,"r":30,"v":0.63},{"c":16,"r":30,"v":0.61},{"c":17,"r":30,"v":0.59},{"c":18,"r":30,"v":0.58},{"c":19,"r":30,"v":0.56},{"c":20,"r":30,"v":0.54},{"c":21,"r":30,"v":0.51},{"c":22,"r":30,"v":0.49},{"c":23,"r":30,"v":0.48},{"c":24,"r":30,"v":0.47},{"c":25,"r":30,"v":0.46},{"c":26,"r":30,"v":0.45},{"c":27,"r":30,"v":0.44},{"c":28,"r":30,"v":0.43},{"c":29,"r":30,"v":0.42},{"c":30,"r":30,"v":0.41},{"c":31,"r":30,"v":0.4},{"c":32,"r":30,"v":0.39},
{"c":0,"r":31,"v":0.88},{"c":1,"r":31,"v":0.87},{"c":2,"r":31,"v":0.87},{"c":3,"r":31,"v":0.86},{"c":4,"r":31,"v":0.85},{"c":5,"r":31,"v":0.84},{"c":6,"r":31,"v":0.81},{"c":7,"r":31,"v":0.77},{"c":8,"r":31,"v":0.74},{"c":9,"r":31,"v":0.7},{"c":10,"r":31,"v":0.67},{"c":11,"r":31,"v":0.65},{"c":12,"r":31,"v":0.64},{"c":13,"r":31,"v":0.62},{"c":14,"r":31,"v":0.6},{"c":15,"r":31,"v":0.58},{"c":16,"r":31,"v":0.56},{"c":17,"r":31,"v":0.54},{"c":18,"r":31,"v":0.53},{"c":19,"r":31,"v":0.51},{"c":20,"r":31,"v":0.49},{"c":21,"r":31,"v":0.47},{"c":22,"r":31,"v":0.45},{"c":23,"r":31,"v":0.44},{"c":24,"r":31,"v":0.43},{"c":25,"r":31,"v":0.42},{"c":26,"r":31,"v":0.41},{"c":27,"r":31,"v":0.41},{"c":28,"r":31,"v":0.4},{"c":29,"r":31,"v":0.39},{"c":30,"r":31,"v":0.38},{"c":31,"r":31,"v":0.37},{"c":32,"r":31,"v":0.36},
{"c":0,"r":32,"v":0.88},{"c":1,"r":32,"v":0.87},{"c":2,"r":32,"v":0.86},{"c":3,"r":32,"v":0.84},{"c":4,"r":32,"v":0.82},{"c":5,"r":32,"v":0.8},{"c":6,"r":32,"v":0.76},{"c":7,"r":32,"v":0.73},{"c":8,"r":32,"v":0.69},{"c":9,"r":32,"v":0.65},{"c":10,"r":32,"v":0.62},{"c":11,"r":32,"v":0.6},{"c":12,"r":32,"v":0.59},{"c":13,"r":32,"v":0.57},{"c":14,"r":32,"v":0.55},{"c":15,"r":32,"v":0.53},{"c":16,"r":32,"v":0.51},{"c":17,"r":32,"v":0.49},{"c":18,"r":32,"v":0.48},{"c":19,"r":32,"v":0.47},{"c":20,"r":32,"v":0.45},{"c":21,"r":32,"v":0.43},{"c":22,"r":32,"v":0.42},{"c":23,"r":32,"v":0.41},{"c":24,"r":32,"v":0.4},{"c":25,"r":32,"v":0.39},{"c":26,"r":32,"v":0.38},{"c":27,"r":32,"v":0.38},{"c":28,"r":32,"v":0.37},{"c":29,"r":32,"v":0.36},{"c":30,"r":32,"v":0.35},{"c":31,"r":32,"v":0.34},{"c":32,"r":32,"v":0.33},
{"c":0,"r":33,"v":0.85},{"c":1,"r":33,"v":0.83},{"c":2,"r":33,"v":0.81},{"c":3,"r":33,"v":0.78},{"c":4,"r":33,"v":0.76},{"c":5,"r":33,"v":0.74},{"c":6,"r":33,"v":0.7},{"c":7,"r":33,"v":0.67},{"c":8,"r":33,"v":0.63},{"c":9,"r":33,"v":0.6},{"c":10,"r":33,"v":0.56},{"c":11,"r":33,"v":0.55},{"c":12,"r":33,"v":0.54},{"c":13,"r":33,"v":0.52},{"c":14,"r":33,"v":0.5},{"c":15,"r":33,"v":0.48},{"c":16,"r":33,"v":0.47},{"c":17,"r":33,"v":0.45},{"c":18,"r":33,"v":0.44},{"c":19,"r":33,"v":0.43},{"c":20,"r":33,"v":0.41},{"c":21,"r":33,"v":0.39},{"c":22,"r":33,"v":0.38},{"c":23,"r":33,"v":0.37},{"c":24,"r":33,"v":0.36},{"c":25,"r":33,"v":0.35},{"c":26,"r":33,"v":0.34},{"c":27,"r":33,"v":0.34},{"c":28,"r":33,"v":0.33},{"c":29,"r":33,"v":0.32},{"c":30,"r":33,"v":0.31},{"c":31,"r":33,"v":0.3},{"c":32,"r":33,"v":0.29},
{"c":0,"r":34,"v":0.79},{"c":1,"r":34,"v":0.77},{"c":2,"r":34,"v":0.75},{"c":3,"r":34,"v":0.72},{"c":4,"r":34,"v":0.7},{"c":5,"r":34,"v":0.67},{"c":6,"r":34,"v":0.64},{"c":7,"r":34,"v":0.6},{"c":8,"r":34,"v":0.57},{"c":9,"r":34,"v":0.53},{"c":10,"r":34,"v":0.5},{"c":11,"r":34,"v":0.49},{"c":12,"r":34,"v":0.48},{"c":13,"r":34,"v":0.47},{"c":14,"r":34,"v":0.45},{"c":15,"r":34,"v":0.44},{"c":16,"r":34,"v":0.42},{"c":17,"r":34,"v":0.41},{"c":18,"r":34,"v":0.4},{"c":19,"r":34,"v":0.38},{"c":20,"r":34,"v":0.37},{"c":21,"r":34,"v":0.35},{"c":22,"r":34,"v":0.34},{"c":23,"r":34,"v":0.33},{"c":24,"r":34,"v":0.33},{"c":25,"r":34,"v":0.32},{"c":26,"r":34,"v":0.31},{"c":27,"r":34,"v":0.3},{"c":28,"r":34,"v":0.3},{"c":29,"r":34,"v":0.29},{"c":30,"r":34,"v":0.28},{"c":31,"r":34,"v":0.27},{"c":32,"r":34,"v":0.26},
{"c":0,"r":35,"v":0.73},{"c":1,"r":35,"v":0.7},{"c":2,"r":35,"v":0.67},{"c":3,"r":35,"v":0.65},{"c":4,"r":35,"v":0.62},{"c":5,"r":35,"v":0.59},{"c":6,"r":35,"v":0.56},{"c":7,"r":35,"v":0.53},{"c":8,"r":35,"v":0.5},{"c":9,"r":35,"v":0.47},{"c":10,"r":35,"v":0.44},{"c":11,"r":35,"v":0.43},{"c":12,"r":35,"v":0.42},{"c":13,"r":35,"v":0.41},{"c":14,"r":35,"v":0.4},{"c":15,"r":35,"v":0.38},{"c":16,"r":35,"v":0.37},{"c":17,"r":35,"v":0.36},{"c":18,"r":35,"v":0.35},{"c":19,"r":35,"v":0.34},{"c":20,"r":35,"v":0.33},{"c":21,"r":35,"v":0.31},{"c":22,"r":35,"v":0.3},{"c":23,"r":35,"v":0.29},{"c":24,"r":35,"v":0.29},{"c":25,"r":35,"v":0.28},{"c":26,"r":35,"v":0.28},{"c":27,"r":35,"v":0.27},{"c":28,"r":35,"v":0.26},{"c":29,"r":35,"v":0.25},{"c":30,"r":35,"v":0.24},{"c":31,"r":35,"v":0.23},{"c":32,"r":35,"v":0.22},
{"c":0,"r":36,"v":0.65},{"c":1,"r":36,"v":0.62},{"c":2,"r":36,"v":0.59},{"c":3,"r":36,"v":0.55},{"c":4,"r":36,"v":0.52},{"c":5,"r":36,"v":0.49},{"c":6,"r":36,"v":0.47},{"c":7,"r":36,"v":0.45},{"c":8,"r":36,"v":0.43},{"c":9,"r":36,"v":0.4},{"c":10,"r":36,"v":0.37},{"c":11,"r":36,"v":0.37},{"c":12,"r":36,"v":0.36},{"c":13,"r":36,"v":0.35},{"c":14,"r":36,"v":0.34},{"c":15,"r":36,"v":0.33},{"c":16,"r":36,"v":0.32},{"c":17,"r":36,"v":0.31},{"c":18,"r":36,"v":0.31},{"c":19,"r":36,"v":0.3},{"c":20,"r":36,"v":0.28},{"c":21,"r":36,"v":0.27},{"c":22,"r":36,"v":0.26},{"c":23,"r":36,"v":0.25},{"c":24,"r":36,"v":0.25},{"c":25,"r":36,"v":0.24},{"c":26,"r":36,"v":0.23},{"c":27,"r":36,"v":0.23},{"c":28,"r":36,"v":0.22},{"c":29,"r":36,"v":0.21},{"c":30,"r":36,"v":0.2},{"c":31,"r":36,"v":0.2},{"c":32,"r":36,"v":0.19},
{"c":0,"r":37,"v":0.56},{"c":1,"r":37,"v":0.53},{"c":2,"r":37,"v":0.5},{"c":3,"r":37,"v":0.46},{"c":4,"r":37,"v":0.43},{"c":5,"r":37,"v":0.4},{"c":6,"r":37,"v":0.38},{"c":7,"r":37,"v":0.36},{"c":8,"r":37,"v":0.34},{"c":9,"r":37,"v":0.32},{"c":10,"r":37,"v":0.3},{"c":11,"r":37,"v":0.3},{"c":12,"r":37,"v":0.29},{"c":13,"r":37,"v":0.29},{"c":14,"r":37,"v":0.28},{"c":15,"r":37,"v":0.28},{"c":16,"r":37,"v":0.27},{"c":17,"r":37,"v":0.26},{"c":18,"r":37,"v":0.26},{"c":19,"r":37,"v":0.25},{"c":20,"r":37,"v":0.24},{"c":21,"r":37,"v":0.23},{"c":22,"r":37,"v":0.22},{"c":23,"r":37,"v":0.21},{"c":24,"r":37,"v":0.21},{"c":25,"r":37,"v":0.2},{"c":26,"r":37,"v":0.2},{"c":27,"r":37,"v":0.19},{"c":28,"r":37,"v":0.18},{"c":29,"r":37,"v":0.18},{"c":30,"r":37,"v":0.17},{"c":31,"r":37,"v":0.17},{"c":32,"r":37,"v":0.16},
{"c":0,"r":38,"v":0.4},{"c":1,"r":38,"v":0.38},{"c":2,"r":38,"v":0.35},{"c":3,"r":38,"v":0.33},{"c":4,"r":38,"v":0.3},{"c":5,"r":38,"v":0.28},{"c":6,"r":38,"v":0.27},{"c":7,"r":38,"v":0.26},{"c":8,"r":38,"v":0.25},{"c":9,"r":38,"v":0.24},{"c":10,"r":38,"v":0.23},{"c":11,"r":38,"v":0.23},{"c":12,"r":38,"v":0.22},{"c":13,"r":38,"v":0.22},{"c":14,"r":38,"v":0.22},{"c":15,"r":38,"v":0.21},{"c":16,"r":38,"v":0.21},{"c":17,"r":38,"v":0.2},{"c":18,"r":38,"v":0.2},{"c":19,"r":38,"v":0.19},{"c":20,"r":38,"v":0.19},{"c":21,"r":38,"v":0.18},{"c":22,"r":38,"v":0.17},{"c":23,"r":38,"v":0.17},{"c":24,"r":38,"v":0.16},{"c":25,"r":38,"v":0.16},{"c":26,"r":38,"v":0.15},{"c":27,"r":38,"v":0.15},{"c":28,"r":38,"v":0.14},{"c":29,"r":38,"v":0.14},{"c":30,"r":38,"v":0.13},{"c":31,"r":38,"v":0.13},{"c":32,"r":38,"v":0.12},
{"c":0,"r":39,"v":0.24},{"c":1,"r":39,"v":0.22},{"c":2,"r":39,"v":0.21},{"c":3,"r":39,"v":0.2},{"c":4,"r":39,"v":0.18},{"c":5,"r":39,"v":0.17},{"c":6,"r":39,"v":0.17},{"c":7,"r":39,"v":0.16},{"c":8,"r":39,"v":0.16},{"c":9,"r":39,"v":0.15},{"c":10,"r":39,"v":0.15},{"c":11,"r":39,"v":0.15},{"c":12,"r":39,"v":0.15},{"c":13,"r":39,"v":0.15},{"c":14,"r":39,"v":0.14},{"c":15,"r":39,"v":0.14},{"c":16,"r":39,"v":0.14},{"c":17,"r":39,"v":0.14},{"c":18,"r":39,"v":0.13},{"c":19,"r":39,"v":0.13},{"c":20,"r":39,"v":0.13},{"c":21,"r":39,"v":0.12},{"c":22,"r":39,"v":0.12},{"c":23,"r":39,"v":0.12},{"c":24,"r":39,"v":0.11},{"c":25,"r":39,"v":0.11},{"c":26,"r":39,"v":0.11},{"c":27,"r":39,"v":0.1},{"c":28,"r":39,"v":0.1},{"c":29,"r":39,"v":0.09},{"c":30,"r":39,"v":0.09},{"c":31,"r":39,"v":0.08},{"c":32,"r":39,"v":0.08},
{"c":0,"r":40,"v":0.1},{"c":1,"r":40,"v":0.1},{"c":2,"r":40,"v":0.1},{"c":3,"r":40,"v":0.09},{"c":4,"r":40,"v":0.09},{"c":5,"r":40,"v":0.09},{"c":6,"r":40,"v":0.09},{"c":7,"r":40,"v":0.09},{"c":8,"r":40,"v":0.08},{"c":9,"r":40,"v":0.08},{"c":10,"r":40,"v":0.08},{"c":11,"r":40,"v":0.08},{"c":12,"r":40,"v":0.08},{"c":13,"r":40,"v":0.08},{"c":14,"r":40,"v":0.07},{"c":15,"r":40,"v":0.07},{"c":16,"r":40,"v":0.07},{"c":17,"r":40,"v":0.07},{"c":18,"r":40,"v":0.07},{"c":19,"r":40,"v":0.07},{"c":20,"r":40,"v":0.06},{"c":21,"r":40,"v":0.06},{"c":22,"r":40,"v":0.06},{"c":23,"r":40,"v":0.06},{"c":24,"r":40,"v":0.06},{"c":25,"r":40,"v":0.05},{"c":26,"r":40,"v":0.05},{"c":27,"r":40,"v":0.05},{"c":28,"r":40,"v":0.05},{"c":29,"r":40,"v":0.05},{"c":30,"r":40,"v":0.04},{"c":31,"r":40,"v":0.04},{"c":32,"r":40,"v":0.04},
{"c":0,"r":41,"v":0.01},{"c":1,"r":41,"v":0.01},{"c":2,"r":41,"v":0.01},{"c":3,"r":41,"v":0.01},{"c":4,"r":41,"v":0.01},{"c":5,"r":41,"v":0.01},{"c":6,"r":41,"v":0.01},{"c":7,"r":41,"v":0},{"c":8,"r":41,"v":0},{"c":9,"r":41,"v":0},{"c":10,"r":41,"v":0},{"c":11,"r":41,"v":0},{"c":12,"r":41,"v":0},{"c":13,"r":41,"v":0},{"c":14,"r":41,"v":-0.01},{"c":15,"r":41,"v":-0.01},{"c":16,"r":41,"v":-0.01},{"c":17,"r":41,"v":-0.01},{"c":18,"r":41,"v":-0.01},{"c":19,"r":41,"v":-0.01},{"c":20,"r":41,"v":-0.01},{"c":21,"r":41,"v":-0.01},{"c":22,"r":41,"v":-0.01},{"c":23,"r":41,"v":-0.01},{"c":24,"r":41,"v":-0.01},{"c":25,"r":41,"v":-0.01},{"c":26,"r":41,"v":-0.01},{"c":27,"r":41,"v":-0.01},{"c":28,"r":41,"v":-0.01},{"c":29,"r":41,"v":-0.01},{"c":30,"r":41,"v":-0.01},{"c":31,"r":41,"v":-0.01},{"c":32,"r":41,"v":-0.01}
]},
"layer":[
{"data":{"name":"cells"},
"transform":[{"lookup":"c","from":{"data":{"name":"cols"},"key":"c","fields":["t0","t1"]}},{"lookup":"r","from":{"data":{"name":"rows"},"key":"r","fields":["x0","x1"]}}],
"mark":{"type":"rect","clip":true,"tooltip":false},
"encoding":{
"x":{"field":"t0","type":"quantitative","scale":{"domain":[0,1],"nice":false,"zero":false},"axis":{"title":"time","values":[0,0.2,0.4,0.6,0.8,1],"format":".1f","titlePadding":6}},
"x2":{"field":"t1"},
"y":{"field":"x0","type":"quantitative","scale":{"domain":[-1,1],"nice":false,"zero":false},"axis":{"title":"x","values":[-1,-0.75,-0.5,-0.25,0,0.25,0.5,0.75,1],"labelExpr":"replace(format(datum.value,'.2f'),'-','−')","titlePadding":8}},
"y2":{"field":"x1"},
"color":{"field":"v","type":"quantitative","scale":{"scheme":"inferno","domain":[-0.895,0.882]},"legend":{"orient":"none","legendX":1055,"legendY":0,"title":null,"gradientLength":385,"gradientThickness":19,"gradientStrokeColor":"black","gradientStrokeWidth":0.8,"labelExpr":"''","padding":0,"values":[-0.8,0.8]}}
}},
{"data":{"name":"ticks"},"mark":{"type":"point","opacity":0},
"encoding":{"y":{"field":"v","type":"quantitative","scale":{"domain":[-0.895,0.882],"nice":false,"zero":false},"axis":{"orient":"right","offset":82,"title":null,"domain":false,"values":[-0.8,-0.6,-0.4,-0.2,0,0.2,0.4,0.6,0.8],"labelExpr":"replace(format(datum.value,'.1f'),'-','−')"}}}},
{"data":{"name":"ticks"},"mark":{"type":"point","opacity":0},
"encoding":{"x":{"field":"v","type":"quantitative","scale":{"domain":[-0.895,0.882],"nice":false,"zero":false},"axis":{"orient":"top","title":null,"ticks":false,"labels":false}},
"y":{"field":"v","type":"quantitative","scale":{"domain":[-0.895,0.882],"nice":false,"zero":false},"axis":{"orient":"right","title":null,"ticks":false,"labels":false}}}}
],
"resolve":{"scale":{"y":"independent","x":"independent"},"axis":{"y":"independent","x":"independent"}}
}
